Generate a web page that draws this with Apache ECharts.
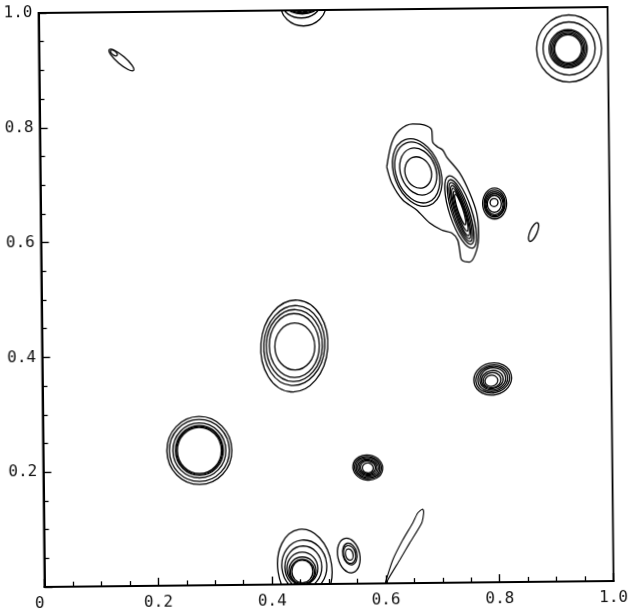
<!DOCTYPE html>
<html><head><meta charset="utf-8">
<script src="https://cdn.jsdelivr.net/npm/echarts@6/dist/echarts.min.js"></script>
<style>
html,body{margin:0;padding:0;background:#fff;}
#chart{position:absolute;left:0;top:0;width:628px;height:613px;transform:rotate(-0.6deg);transform-origin:326.25px 297px;}
</style></head><body><div id="chart"></div>
<script>
// Tick labels (shared by both axes)
const tickValues = [0, 0.2, 0.4, 0.6, 0.8, 1.0];
const tickLabels = ['0', '0.2', '0.4', '0.6', '0.8', '1.0'];

// Contours: [centreX, centreY, radiusX, radiusY, tiltDeg]
const ringTopRight = [
  [0.9317, 0.9285, 0.0571, 0.0584, 0],
  [0.9317, 0.9285, 0.0457, 0.0462, 0],
  [0.9300, 0.9280, 0.0335, 0.0332, 0],
  [0.9300, 0.9280, 0.0308, 0.0312, 0],
  [0.9300, 0.9280, 0.0282, 0.0288, 0],
  [0.9300, 0.9280, 0.0258, 0.0264, 0],
  [0.9300, 0.9280, 0.0237, 0.0244, 0]
];
const spotTopLeft = [
  [0.1448, 0.9166, 0.0281, 0.0072, -41],
  [0.1318, 0.9290, 0.0070, 0.0035, -41]
];
const peakTopEdge = [
  [0.4655, 1.0109, 0.0404, 0.0383, 0],
  [0.4619, 1.0109, 0.0334, 0.0244, 0],
  [0.4637, 1.0057, 0.0263, 0.0122, 0],
  [0.4636, 1.0039, 0.0211, 0.0087, 0],
  [0.4636, 1.0039, 0.0158, 0.0070, 0]
];
const ovalCentre = [
  [0.4434, 0.4152, 0.0588, 0.0801, -5],
  [0.4434, 0.4160, 0.0536, 0.0697, -5],
  [0.4434, 0.4160, 0.0492, 0.0627, -3],
  [0.4434, 0.4160, 0.0439, 0.0557, 0],
  [0.4443, 0.4143, 0.0351, 0.0409, 0]
];
const ringLeft = [
  [0.2746, 0.2349, 0.0571, 0.0592, 0],
  [0.2746, 0.2349, 0.0527, 0.0540, 0],
  [0.2746, 0.2349, 0.0465, 0.0479, 0],
  [0.2746, 0.2349, 0.0421, 0.0436, 0],
  [0.2746, 0.2349, 0.0404, 0.0418, 0],
  [0.2746, 0.2349, 0.0386, 0.0401, 0]
];
const peakBottom = [
  [0.4577, 0.0283, 0.0474, 0.0679, 8],
  [0.4568, 0.0318, 0.0395, 0.0453, 5],
  [0.4551, 0.0300, 0.0325, 0.0366, 0],
  [0.4533, 0.0274, 0.0272, 0.0287, 0],
  [0.4533, 0.0240, 0.0237, 0.0235, 0],
  [0.4533, 0.0213, 0.0211, 0.0218, 0],
  [0.4533, 0.0222, 0.0184, 0.0200, 0]
];
const spotBottomSmall = [
  [0.5352, 0.0492, 0.0193, 0.0305, 12],
  [0.5370, 0.0518, 0.0123, 0.0192, 12],
  [0.5365, 0.0512, 0.0105, 0.0160, 12],
  [0.5361, 0.0509, 0.0066, 0.0100, 12]
];
const ringSmallA = [
  [0.5702, 0.2022, 0.0263, 0.0218, -10],
  [0.5702, 0.2022, 0.0237, 0.0192, -10],
  [0.5702, 0.2022, 0.0211, 0.0174, -10],
  [0.5702, 0.2022, 0.0184, 0.0148, -10],
  [0.5702, 0.2022, 0.0158, 0.0131, -10],
  [0.5702, 0.2022, 0.0132, 0.0113, -10],
  [0.5702, 0.2015, 0.0097, 0.0087, -10]
];
const ringSmallB = [
  [0.7913, 0.3541, 0.0334, 0.0279, 12],
  [0.7913, 0.3541, 0.0299, 0.0244, 12],
  [0.7913, 0.3541, 0.0263, 0.0218, 12],
  [0.7913, 0.3541, 0.0228, 0.0192, 12],
  [0.7905, 0.3530, 0.0193, 0.0157, 12],
  [0.7900, 0.3520, 0.0158, 0.0131, 12],
  [0.7890, 0.3510, 0.0114, 0.0096, 12]
];
const ringSmallC = [
  [0.7980, 0.6598, 0.0211, 0.0270, 0],
  [0.7980, 0.6598, 0.0184, 0.0235, 0],
  [0.7980, 0.6590, 0.0167, 0.0209, 0],
  [0.7980, 0.6585, 0.0149, 0.0183, 0],
  [0.7975, 0.6590, 0.0123, 0.0148, 0],
  [0.7970, 0.6615, 0.0070, 0.0070, 0]
];
const spotRight = [
  [0.8660, 0.6094, 0.0176, 0.0061, 66]
];
const blobUpper = [
  [0.6625, 0.7152, 0.0404, 0.0610, 20],
  [0.6625, 0.7152, 0.0369, 0.0549, 20],
  [0.6643, 0.7169, 0.0309, 0.0422, 20],
  [0.6643, 0.7152, 0.0228, 0.0279, 20]
];
const blobTail = [
  [0.7382, 0.6456, 0.0667, 0.0192, 108],
  [0.7382, 0.6456, 0.0597, 0.0148, 108],
  [0.7382, 0.6456, 0.0544, 0.0122, 108],
  [0.7382, 0.6456, 0.0492, 0.0096, 108],
  [0.7382, 0.6456, 0.0439, 0.0078, 108],
  [0.7382, 0.6470, 0.0369, 0.0061, 108],
  [0.7375, 0.6500, 0.0281, 0.0044, 108]
];

const blobOuter = [
  [0.6091, 0.7254], [0.6183, 0.7671], [0.6326, 0.7896], [0.6555, 0.7998], [0.6766, 0.7978],
  [0.6888, 0.7890], [0.6903, 0.7681], [0.6990, 0.7593], [0.7077, 0.7540], [0.7146, 0.7417],
  [0.7371, 0.7136], [0.7543, 0.6786], [0.7663, 0.6436], [0.7694, 0.6087], [0.7656, 0.5791],
  [0.7531, 0.5583], [0.7391, 0.5620], [0.7357, 0.5794], [0.7324, 0.5969], [0.7220, 0.6092],
  [0.7045, 0.6146], [0.6835, 0.6270], [0.6609, 0.6499], [0.6366, 0.6676], [0.6176, 0.6974],
  [0.6091, 0.7254]
];
const needle = [
  [0.5979, -0.002], [0.6124, 0.0406], [0.6303, 0.0753], [0.6482, 0.1047], [0.6571, 0.1220],
  [0.6660, 0.1289], [0.6677, 0.1237], [0.6640, 0.1045], [0.6425, 0.0699], [0.6247, 0.0405],
  [0.6032, 0.0058], [0.6014, -0.003]
];

const ellipses = [].concat(ringTopRight, spotTopLeft, peakTopEdge, ovalCentre, ringLeft,
  peakBottom, spotBottomSmall, ringSmallA, ringSmallB, ringSmallC, spotRight, blobUpper, blobTail);

const INK = '#000';
const chart = echarts.init(document.getElementById('chart'), null, {renderer: 'canvas'});

function axisCommon() {
  return {
    type: 'value', min: 0, max: 1, interval: 0.2,
    axisLine: {show: true, lineStyle: {color: INK, width: 2}},
    axisTick: {show: true, inside: true, length: 8, lineStyle: {color: INK, width: 1.4}},
    minorTick: {show: true, splitNumber: 4, length: 5, lineStyle: {color: INK, width: 1.3}},
    splitLine: {show: false},
    minorSplitLine: {show: false},
    axisLabel: {
      color: '#111', fontFamily: 'DejaVu Sans Mono', fontSize: 16,
      formatter: function (v) { return tickLabels[tickValues.indexOf(Math.round(v * 10) / 10)]; }
    }
  };
}
const xAx = axisCommon();
xAx.axisLabel.margin = 9;
xAx.axisLabel.alignMinLabel = 'right';
const yAx = axisCommon();
yAx.axisLabel.margin = 6;
yAx.axisLabel.showMinLabel = false;

chart.setOption({
  animation: false,
  backgroundColor: '#fff',
  grid: {left: 41.5, right: 17, top: 10, bottom: 29, show: true, borderColor: INK, borderWidth: 1.8},
  xAxis: xAx,
  yAxis: yAx,
  series: [
    {
      type: 'custom',
      clip: true,
      silent: true,
      encode: {x: 0, y: 1},
      data: ellipses,
      renderItem: function (params, api) {
        const c = api.coord([api.value(0), api.value(1)]);
        const s = api.size([api.value(2), api.value(3)]);
        return {
          type: 'ellipse',
          x: c[0], y: c[1],
          rotation: api.value(4) * Math.PI / 180,
          shape: {cx: 0, cy: 0, rx: s[0], ry: s[1]},
          style: {fill: 'none', stroke: INK, lineWidth: 1.3}
        };
      }
    },
    {
      type: 'line', data: blobOuter, symbol: 'none', smooth: 0.3, clip: true, silent: true,
      lineStyle: {color: INK, width: 1.3}
    },
    {
      type: 'line', data: needle, symbol: 'none', smooth: 0.2, clip: true, silent: true,
      lineStyle: {color: INK, width: 1.1}
    }
  ]
});
</script></body></html>
